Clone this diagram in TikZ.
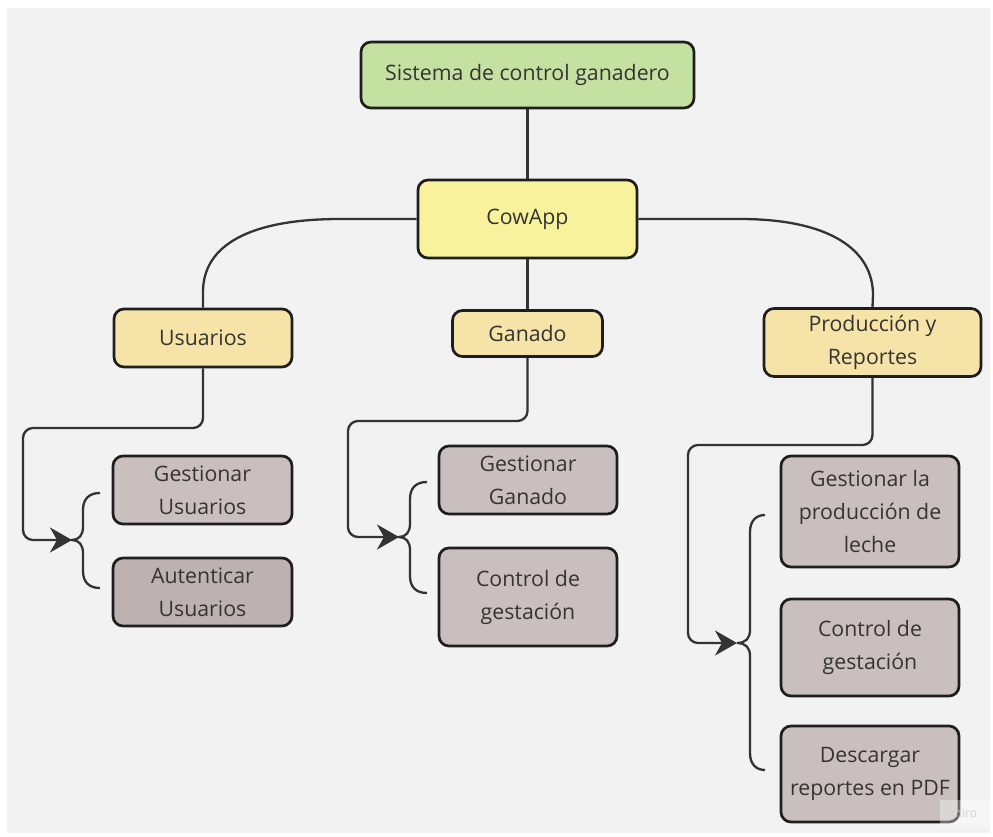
\documentclass[tikz,border=0pt]{standalone}
\usepackage{fontspec}
\setmainfont{Open Sans}
\usetikzlibrary{arrows.meta}

\definecolor{bggray}{HTML}{F2F2F2}
\definecolor{rootgreen}{HTML}{C5E1A2}
\definecolor{appyellow}{HTML}{F8F29C}
\definecolor{modsand}{HTML}{F5E3A7}
\definecolor{taskgray}{HTML}{C9BFBF}
\definecolor{taskdark}{HTML}{BDB1B1}
\definecolor{edge}{HTML}{1E1E1E}
\definecolor{wire}{HTML}{333333}
\definecolor{ink}{HTML}{363333}

% curly brace: tip (#1,#2), spine at x=#3, ends at x=#4, y from #5 to #6
\newcommand\mybrace[6]{%
  \draw[wire line] (#4,#5) .. controls (#3+6,#5) and (#3,#5+6) .. (#3,#5+17)
    -- (#3,#2-13) .. controls (#3,#2-5) and (#3-4,#2) .. (#1,#2)
    .. controls (#3-4,#2) and (#3,#2+5) .. (#3,#2+13)
    -- (#3,#6-17) .. controls (#3,#6-6) and (#3+6,#6) .. (#4,#6);}

\begin{document}
\begin{tikzpicture}[x=1pt,y=-1pt,
  box/.style={draw=edge, line width=2.7pt, rounded corners=10pt,
    inner sep=0pt, align=center, text=ink,
    font=\fontsize{21.3}{33}\selectfont},
  wire line/.style={draw=wire, line width=2.3pt},
  feed/.style={wire line, rounded corners=10pt,
    -{Stealth[length=22pt,width=25pt,inset=7pt]}}]

% canvas
\useasboundingbox (0,0) rectangle (993,837);
\fill[white] (0,0) rectangle (993,837);
\fill[bggray] (7,8) rectangle (990,833);

% brace tips that the feed arrows point at
\coordinate (tipU) at (72,540);
\coordinate (tipG) at (399,537);
\coordinate (tipP) at (737,643);

% boxes
\node[box, fill=rootgreen, minimum width=333pt, minimum height=66pt] (root) at (527.5,75) {Sistema de control ganadero};
\node[box, fill=appyellow, minimum width=219pt, minimum height=78pt] (app) at (527.5,219) {CowApp};

\node[box, fill=modsand, minimum width=178pt, minimum height=58pt] (usr) at (203,338) {Usuarios};
\node[box, fill=modsand, minimum width=150pt, minimum height=46pt] (gan) at (527.5,333.5) {Ganado};
\node[box, fill=modsand, minimum width=217pt, minimum height=68pt] (pro) at (872.5,342.5) {Producción y\\Reportes};

\node[box, fill=taskgray, minimum width=179pt, minimum height=68pt] (gu) at (202.5,490) {Gestionar\\Usuarios};
\node[box, fill=taskdark, minimum width=179pt, minimum height=68pt] (au) at (202.5,592) {Autenticar\\Usuarios};

\node[box, fill=taskgray, minimum width=178pt, minimum height=68pt] (gg) at (528,480) {Gestionar\\Ganado};
\node[box, fill=taskgray, minimum width=178pt, minimum height=98pt] (cg) at (528,597) {Control de\\gestación};

\node[box, fill=taskgray, minimum width=178pt, minimum height=111pt] (gp) at (870,511.5) {Gestionar la\\producción de\\leche};
\node[box, fill=taskgray, minimum width=178pt, minimum height=97pt] (cp) at (870,647.5) {Control de\\gestación};
\node[box, fill=taskgray, minimum width=178pt, minimum height=96pt] (dr) at (870,774) {Descargar\\reportes en PDF};

% hierarchy lines
\draw[wire line] (root.south) -- (app.north);
\draw[wire line] (app.south) -- (gan.north);
\draw[wire line] (app.west) -- (340,219) .. controls (250,219) and (203,245) .. (203,292) -- (usr.north);
\draw[wire line] (app.east) -- (740,219) .. controls (830,219) and (873,250) .. (873,295) -- (pro.north);

% feeds into the task groups
\draw[feed] (usr.south) |- (23,428) |- (tipU);
\draw[feed] (gan.south) |- (348,421) |- (tipG);
\draw[feed] (pro.south) |- (688,445) |- (tipP);

% braces grouping the tasks
\mybrace{72}{540}{83}{100}{493}{588}
\mybrace{399}{537}{410}{427}{482}{593}
\mybrace{737}{643}{750}{765}{515}{770}

% watermark
\fill[white, opacity=0.35] (940,800) rectangle (990,826);
\node[text=black!18, font=\fontsize{12}{12}\selectfont, inner sep=0pt] (mark) at (964,813) {miro};
\end{tikzpicture}
\end{document}
